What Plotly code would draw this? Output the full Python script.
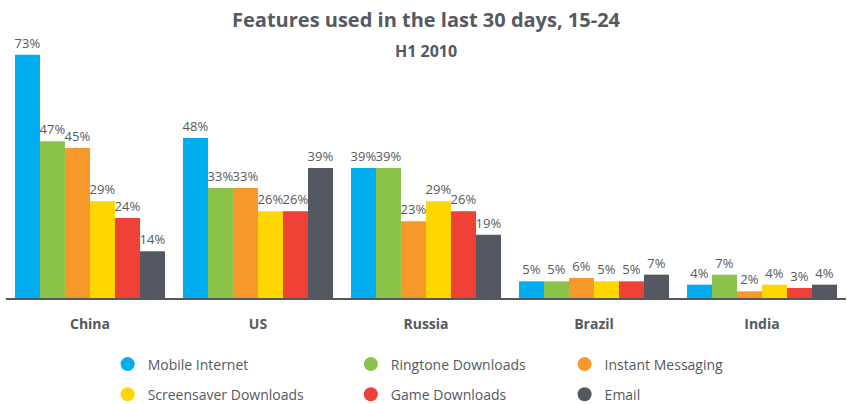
import plotly.graph_objects as go

countries = ["China", "US", "Russia", "Brazil", "India"]
series_names = ["Mobile Internet", "Ringtone Downloads", "Instant Messaging",
                "Screensaver Downloads", "Game Downloads", "Email"]
mobile_internet = [73, 48, 39, 5, 4]
ringtone = [47, 33, 39, 5, 7]
instant_messaging = [45, 33, 23, 6, 2]
screensaver = [29, 26, 29, 5, 4]
game = [24, 26, 26, 5, 3]
email = [14, 39, 19, 7, 4]
series_values = [mobile_internet, ringtone, instant_messaging, screensaver, game, email]
colors = ["#00aeef", "#8bc34a", "#f7992a", "#ffd600", "#ef4136", "#545860"]

FONT = "Open Sans"
TXT = "#555960"

fig = go.Figure()
for name, vals, col in zip(series_names, series_values, colors):
    fig.add_trace(go.Bar(
        x=countries, y=vals, name=name, marker=dict(color=col, line=dict(width=0)),
        text=[f"{v}%" for v in vals], textposition="outside", constraintext="none",
        cliponaxis=False, textfont=dict(family=FONT, size=13, color=TXT),
        showlegend=False, hoverinfo="skip"))

# legend entries (circle markers), arranged in three columns
legend_of = ["legend", "legend2", "legend3", "legend", "legend2", "legend3"]
for i, (name, col) in enumerate(zip(series_names, colors)):
    fig.add_trace(go.Scatter(
        x=[None], y=[None], mode="markers", name=name,
        marker=dict(symbol="circle", size=14, color=col),
        legend=legend_of[i], legendgroup=name, showlegend=True))

leg_common = dict(orientation="v", yanchor="top", y=-0.202, xanchor="left",
                  font=dict(family=FONT, size=14, color=TXT), tracegroupgap=9,
                  bgcolor="rgba(0,0,0,0)", itemclick=False, itemdoubleclick=False)

fig.update_layout(
    width=847, height=404,
    margin=dict(l=6, r=1, t=48, b=106, autoexpand=False),
    paper_bgcolor="white", plot_bgcolor="white",
    barmode="group", bargap=0.107, bargroupgap=0,
    title=dict(text="<b>Features used in the last 30 days, 15-24</b>",
               x=0.503, xanchor="center", y=0.95, yanchor="middle",
               font=dict(family=FONT, size=20, color=TXT)),
    annotations=[dict(text="<b>H1 2010</b>", xref="paper", yref="paper",
                      x=0.5, y=0.988, yanchor="middle", xanchor="center",
                      showarrow=False,
                      font=dict(family=FONT, size=16, color=TXT))],
    xaxis=dict(showline=True, linecolor="#545860", linewidth=2,
               ticks="outside", ticklen=12, tickcolor="rgba(0,0,0,0)",
               tickfont=dict(family=FONT, size=14, color=TXT),
               tickprefix="<b>", ticksuffix="</b>", showgrid=False),
    yaxis=dict(range=[0, 75], visible=False, showgrid=False, zeroline=False),
    legend=dict(x=0.121, **leg_common),
    legend2=dict(x=0.4105, **leg_common),
    legend3=dict(x=0.665, **leg_common),
)

fig.write_html("out.html", config={"displayModeBar": False},
               post_script="document.body.style.margin='0';")
